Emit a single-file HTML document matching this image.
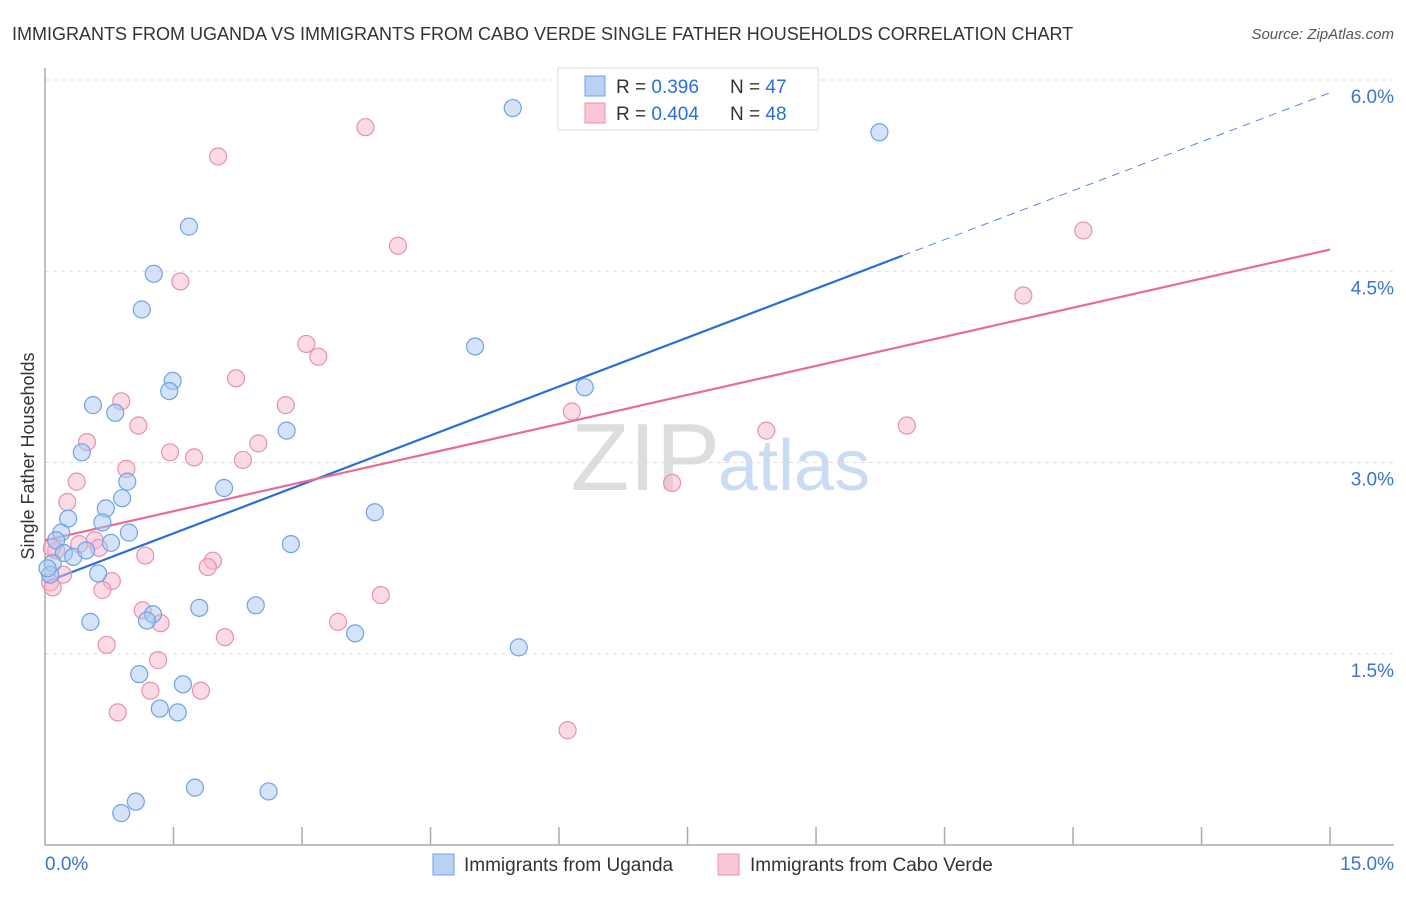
<!DOCTYPE html>
<html><head><meta charset="utf-8"><style>
body{margin:0;background:#fff;font-family:"Liberation Sans",sans-serif;}
svg text{font-family:"Liberation Sans",sans-serif;}
</style></head><body>
<svg id="chart" width="1406" height="892" viewBox="0 0 1406 892">
<text x="12" y="40" font-size="18" fill="#333">IMMIGRANTS FROM UGANDA VS IMMIGRANTS FROM CABO VERDE SINGLE FATHER HOUSEHOLDS CORRELATION CHART</text>
<text x="1394" y="39" font-size="15" fill="#555" font-style="italic" text-anchor="end">Source: ZipAtlas.com</text>
<text x="720" y="490" font-size="96" fill="#ddd" text-anchor="end" font-family="Liberation Serif">ZIP</text>
<text x="718" y="490" font-size="72" fill="#c9dcf3">atlas</text>
<g id="grid"></g><g id="axes"></g><g id="lines"></g><g id="points"></g>
<text x="34" y="456" font-size="18" fill="#333" text-anchor="middle" transform="rotate(-90 34 456)">Single Father Households</text>
<g>
<rect x="558" y="68" width="260" height="62" fill="#fff" stroke="#ddd"/>
<rect x="585" y="76" width="20" height="20" fill="#b9d2f3" stroke="#6fa3e6"/>
<rect x="585" y="103" width="20" height="20" fill="#f8c6d5" stroke="#e891ab"/>
<text x="616" y="93" font-size="19" fill="#333">R = <tspan fill="#2a6fd6">0.396</tspan><tspan x="730">N = </tspan><tspan fill="#2a6fd6">47</tspan></text>
<text x="616" y="120" font-size="19" fill="#333">R = <tspan fill="#2a6fd6">0.404</tspan><tspan x="730">N = </tspan><tspan fill="#2a6fd6">48</tspan></text>
</g>
<g>
<rect x="433" y="854" width="21" height="21" fill="#b9d2f3" stroke="#6fa3e6"/>
<text x="464" y="871" font-size="19" fill="#333">Immigrants from Uganda</text>
<rect x="718" y="854" width="21" height="21" fill="#f8c6d5" stroke="#e891ab"/>
<text x="750" y="871" font-size="19" fill="#333">Immigrants from Cabo Verde</text>
</g>
</svg>
<script>
const yTicks=[1.5,3.0,4.5,6.0];
const xTickLabels=["0.0%","15.0%"];
const ugandaX=[5.46,9.74,1.68,1.27,1.13,5.02,1.49,1.45,6.30,0.56,0.82,2.82,0.43,0.96,2.09,0.90,0.71,3.85,0.27,0.67,0.19,0.98,0.13,0.77,2.87,0.22,0.33,0.48,0.09,0.06,0.62,2.46,1.80,1.26,1.19,0.53,3.62,5.53,1.10,1.61,1.34,1.55,1.75,2.61,1.06,0.89,0.03];
const ugandaY=[5.78,5.59,4.85,4.48,4.20,3.91,3.64,3.56,3.59,3.45,3.39,3.25,3.08,2.85,2.80,2.72,2.64,2.61,2.56,2.53,2.45,2.45,2.39,2.37,2.36,2.29,2.26,2.31,2.21,2.12,2.13,1.88,1.86,1.81,1.76,1.75,1.66,1.55,1.34,1.26,1.07,1.04,0.45,0.42,0.34,0.25,2.17];
const caboX=[3.74,2.02,4.12,12.12,1.58,11.42,3.05,3.19,2.23,0.89,2.81,6.15,1.09,8.42,10.06,0.49,2.49,1.46,1.74,2.31,0.95,0.37,7.32,0.26,0.58,0.13,0.63,1.17,1.96,1.90,0.21,0.78,0.06,0.09,0.67,3.92,1.14,1.35,3.42,2.10,0.72,1.32,1.82,1.23,0.85,6.10,0.08,0.40];
const caboY=[5.63,5.40,4.70,4.82,4.42,4.31,3.93,3.83,3.66,3.48,3.45,3.40,3.29,3.25,3.29,3.16,3.15,3.08,3.04,3.02,2.95,2.85,2.84,2.69,2.39,2.31,2.33,2.27,2.23,2.18,2.12,2.07,2.06,2.02,2.00,1.96,1.84,1.74,1.75,1.63,1.57,1.45,1.21,1.21,1.04,0.90,2.33,2.36];
const ugandaTrend=[2.06,5.90]; const caboTrend=[2.39,4.67];
const NS="http://www.w3.org/2000/svg";
const X=v=>45+v*85.67, Y=v=>845-v*127.5;
function mk(p,tag,a){const e=document.createElementNS(NS,tag);for(const k in a)e.setAttribute(k,a[k]);document.getElementById(p).appendChild(e);return e;}
yTicks.forEach(t=>{
 const g=mk('grid','line',{x1:45,x2:1394,y1:Y(t),y2:Y(t),stroke:'#ddd','stroke-dasharray':'4,4'});
 
 
 const l=mk('grid','text',{x:1394,y:Y(t)+23,'font-size':19,fill:'#3b73d0','text-anchor':'end'});
 l.textContent=t.toFixed(1)+'%';
 
 
});
const ax=mk('axes','path',{d:'M45 68V845H1394',fill:'none',stroke:'#aaa','stroke-width':1.5});


for(let i=1;i<=10;i++){const tk=mk('axes','line',{x1:X(i*1.5),x2:X(i*1.5),y1:827,y2:845,stroke:'#aaa','stroke-width':1.5});
 
 }
[[0,'start',45],[15,'end',1394]].forEach((d,i)=>{const t=mk('axes','text',{x:d[2],y:870,'font-size':19,fill:'#3b73d0','text-anchor':d[1]});t.textContent=xTickLabels[i];
 
 });
function drawPts(xs,ys,fill,stroke,name){xs.forEach((x,i)=>{const c=mk('points','circle',{cx:X(x),cy:Y(ys[i]),r:8.5,fill:fill,'fill-opacity':0.5,stroke:stroke,'stroke-width':1.2});
 
 });}
drawPts(caboX,caboY,'#f5b8cb','#e891ab','point-cabo-verde');
drawPts(ugandaX,ugandaY,'#a9c8f0','#6fa3e6','point-uganda');
const bs=(ugandaTrend[1]-ugandaTrend[0])/15, xe=10.01;
const b1=mk('lines','line',{x1:X(0),y1:Y(ugandaTrend[0]),x2:X(xe),y2:Y(ugandaTrend[0]+bs*xe),stroke:'#2a6fd6','stroke-width':2.2});


const b2=mk('lines','line',{x1:X(xe),y1:Y(ugandaTrend[0]+bs*xe),x2:X(15),y2:Y(ugandaTrend[1]),stroke:'#5a8ad6','stroke-width':1,'stroke-dasharray':'8,6'});


const p1=mk('lines','line',{x1:X(0),y1:Y(caboTrend[0]),x2:X(15),y2:Y(caboTrend[1]),stroke:'#e86b94','stroke-width':2.2});


</script>
</body></html>
